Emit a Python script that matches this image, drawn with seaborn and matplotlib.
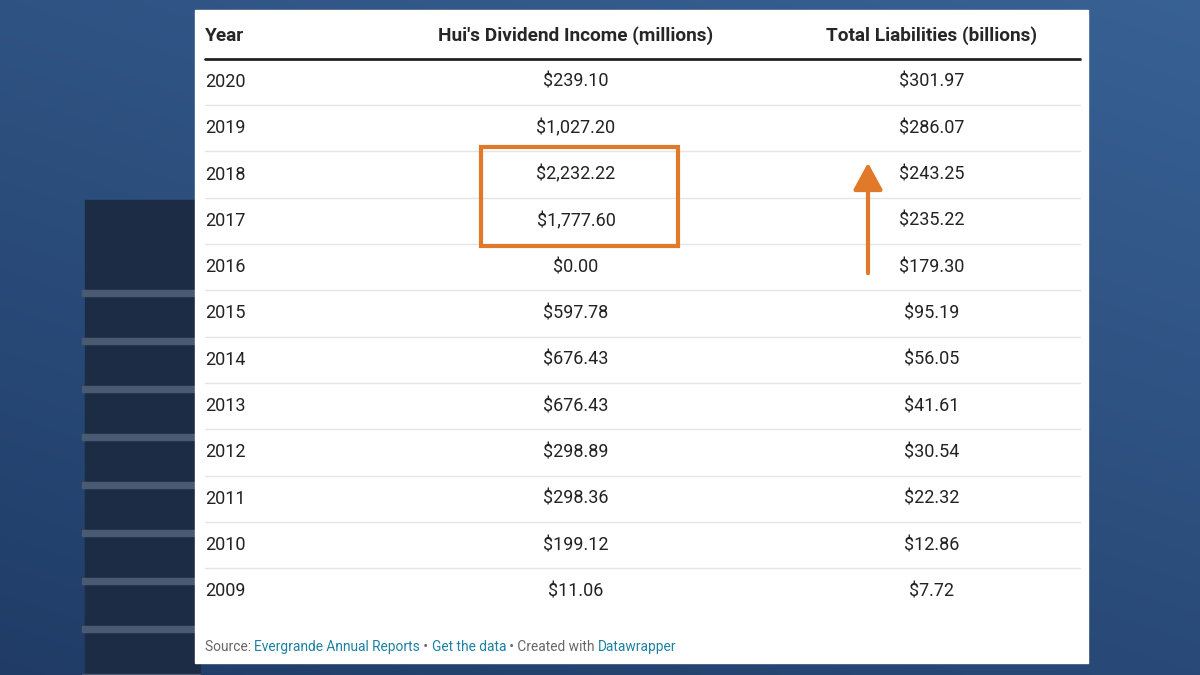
import numpy as np
import matplotlib
matplotlib.use("Agg")
import matplotlib.pyplot as plt
import seaborn as sns
from matplotlib.patches import Rectangle, FancyArrowPatch

years = [2020, 2019, 2018, 2017, 2016, 2015, 2014, 2013, 2012, 2011, 2010, 2009]
dividend_income = [239.10, 1027.20, 2232.22, 1777.60, 0.00, 597.78, 676.43, 676.43, 298.89, 298.36, 199.12, 11.06]
total_liabilities = [301.97, 286.07, 243.25, 235.22, 179.30, 95.19, 56.05, 41.61, 30.54, 22.32, 12.86, 7.72]
headers = ["Year", "Hui's Dividend Income (millions)", "Total Liabilities (billions)"]

sns.set_theme(style="white", font="Roboto")
fig = plt.figure(figsize=(12, 6.75), dpi=100)
ax = fig.add_axes([0, 0, 1, 1])
ax.set_xlim(0, 1200); ax.set_ylim(675, 0); ax.axis("off")

yy, xx = np.mgrid[0:675, 0:1200]
t = 0.5 * yy / 675 + 0.3 * (1 - xx / 1200)
top = np.array([0.22, 0.38, 0.58]); bot = np.array([0.10, 0.20, 0.36])
img = top[None, None, :] * (1 - t[..., None]) + bot[None, None, :] * t[..., None]
ax.imshow(img, extent=[0, 1200, 675, 0], aspect="auto", zorder=0)
ax.add_patch(Rectangle((85, 200), 115, 475, color="#1c2c44", zorder=1))
for y in range(290, 675, 48):
    ax.add_patch(Rectangle((82, y), 118, 6, color="#4a5a72", zorder=1))

ax.add_patch(Rectangle((195, 10), 893, 653, color="white", zorder=2))

fs = 13.7
ax.text(205, 36, headers[0], fontsize=fs, fontweight="bold", va="center", zorder=3)
ax.text(576, 36, headers[1], fontsize=fs, fontweight="bold", va="center", ha="center", zorder=3)
ax.text(932, 36, headers[2], fontsize=fs, fontweight="bold", va="center", ha="center", zorder=3)
ax.plot([205, 1080], [58.5, 58.5], color="#222222", lw=2, zorder=3)

row0, step = 82, 46.3
for i, (yr, d, l) in enumerate(zip(years, dividend_income, total_liabilities)):
    y = row0 + i * step
    ax.text(205, y, str(yr), fontsize=13, va="center", color="#222", zorder=3)
    ax.text(576, y, f"${d:,.2f}", fontsize=13, va="center", ha="center", color="#222", zorder=3)
    ax.text(932, y, f"${l:,.2f}", fontsize=13, va="center", ha="center", color="#222", zorder=3)
    if i < len(years) - 1:
        ax.plot([205, 1080], [y + step / 2] * 2, color="#e5e5e5", lw=1, zorder=3)

orange = "#e07a2a"
ax.add_patch(Rectangle((481, 147), 197, 99, fill=False, ec=orange, lw=3, zorder=4))
ax.add_patch(FancyArrowPatch((868, 276), (868, 160), arrowstyle="-|>,head_width=6,head_length=11",
                             color=orange, lw=3, mutation_scale=1.5, zorder=4))

x = 205
parts = [("Source: ", "#666"), ("Evergrande Annual Reports", "#1d81a2"), (" • ", "#666"),
         ("Get the data", "#1d81a2"), (" • Created with ", "#666"), ("Datawrapper", "#1d81a2")]
renderer = fig.canvas.get_renderer()
for s, c in parts:
    t_ = ax.text(x, 647, s, fontsize=9.9, color=c, va="center", zorder=3)
    x += t_.get_window_extent(renderer).width
fig.savefig("out.png", dpi=100)
